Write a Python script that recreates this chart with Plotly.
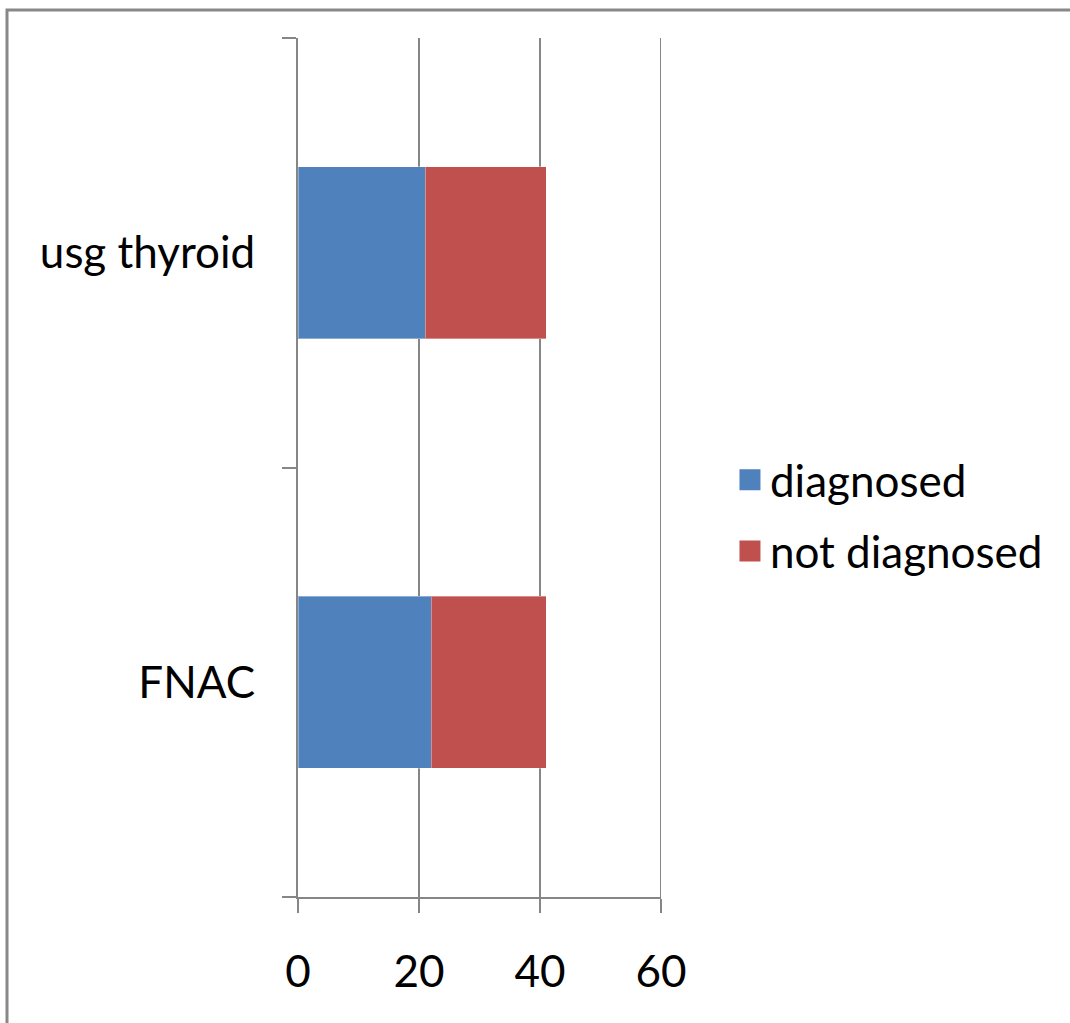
import plotly.graph_objects as go

# Categories (bottom to top as plotted) and stacked values
methods = ["FNAC", "usg thyroid"]
diagnosed = [22, 21]
not_diagnosed = [19, 20]
x_ticks = [0, 20, 40, 60]
series_names = ["diagnosed", "not diagnosed"]

BLUE = "#4F81BD"
RED = "#C0504D"
GRID = "#868686"
FONT = "Lato, Liberation Sans, Arial, sans-serif"

fig = go.Figure()
for vals, name, color in [(diagnosed, series_names[0], BLUE),
                          (not_diagnosed, series_names[1], RED)]:
    fig.add_trace(go.Bar(
        y=methods, x=vals, orientation="h", name=name, showlegend=False,
        marker=dict(color=color, line=dict(color="rgba(255,255,255,0.35)", width=1)),
    ))

# Legend entries with large square swatches
for name, color in [(series_names[0], BLUE), (series_names[1], RED)]:
    fig.add_trace(go.Scatter(
        x=[None], y=[None], mode="markers", name=name, legendgroup=name,
        marker=dict(symbol="square", size=16, color=color,
                    line=dict(color=color, width=5)),
        hoverinfo="skip",
    ))

fig.update_layout(
    width=1070, height=1023,
    margin=dict(l=298, r=409, t=38, b=126),
    barmode="stack", bargap=0.6,
    plot_bgcolor="white", paper_bgcolor="white",
    font=dict(family=FONT, size=44, color="black"),
    legend=dict(
        x=1.19, xanchor="left", y=0.444, yanchor="middle",
        font=dict(size=44), tracegroupgap=11, traceorder="grouped",
        itemsizing="trace", bgcolor="rgba(0,0,0,0)",
    ),
    xaxis=dict(
        range=[0, 60], tickvals=x_ticks, showgrid=True, gridcolor=GRID, gridwidth=1.5,
        zeroline=False, showline=True, linecolor=GRID, linewidth=2,
        ticks="outside", ticklen=14, tickcolor=GRID, tickwidth=1.5,
        tickfont=dict(size=44), ticklabelstandoff=21,
    ),
    yaxis=dict(
        showline=True, linecolor=GRID, linewidth=2, showgrid=False,
        ticks="outside", ticklen=14, tickcolor=GRID, tickwidth=2,
        tickson="boundaries", tickfont=dict(size=44), ticklabelstandoff=32,
    ),
    shapes=[dict(
        type="rect", xref="paper", yref="paper",
        x0=(7 - 298) / 363, x1=(1075 - 298) / 363,
        y0=(897 - 1030) / 859, y1=(897 - 10) / 859,
        line=dict(color="#888888", width=3), fillcolor="rgba(0,0,0,0)", layer="below",
    )],
)

# Gridline at the top end of the value axis
fig.add_shape(type="line", xref="x", yref="paper", x0=x_ticks[-1], x1=x_ticks[-1],
              y0=0, y1=1, line=dict(color=GRID, width=2), layer="below")

fig.write_html("out.html")
